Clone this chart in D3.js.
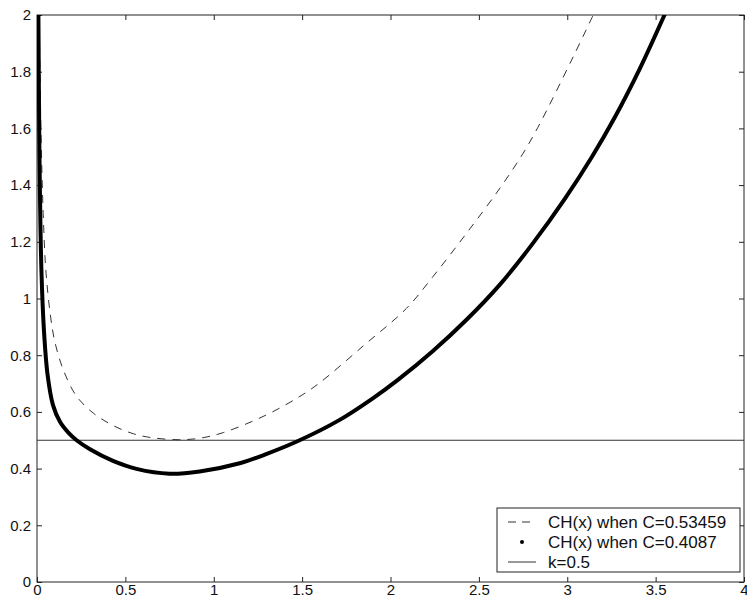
<!DOCTYPE html>
<html lang="en">
<head>
	<meta charset="utf-8"/>
	<title>CH(x) curves</title>
	<script src="https://d3js.org/d3.v7.min.js"></script>
	<style>
		body { margin: 0; background: #fff; }
		.axis text { font-family: "Liberation Sans", Arial, sans-serif; font-size: 15px; fill: #111; }
		.axis line { stroke: #222; }
		.axis .domain { display: none; }
		.legend text { font-family: "Liberation Sans", Arial, sans-serif; font-size: 17px; fill: #111; }
	</style>
</head>
<body>
<div id="chart"></div>

<script>
	// curve: CH(x) when C=0.53459 (dashed)
	var dashX = [0.012, 0.022, 0.035, 0.05, 0.074, 0.10, 0.149, 0.224, 0.32, 0.43, 0.545, 0.65, 0.80, 0.92, 1.054, 1.30, 1.488, 1.60, 1.85, 2.09, 2.24, 2.43, 2.62, 2.75, 2.846, 3.034, 3.147];
	var dashY = [2.0, 1.6, 1.3, 1.1, 0.95, 0.85, 0.748, 0.655, 0.595, 0.552, 0.523, 0.509, 0.502, 0.507, 0.527, 0.59, 0.655, 0.703, 0.835, 0.965, 1.077, 1.23, 1.39, 1.512, 1.618, 1.853, 2.0];

	// CH(x) when C=0.4087 (thick dotted)
	var dotX = [0.008, 0.014, 0.025, 0.04, 0.06, 0.09, 0.13, 0.18, 0.224, 0.30, 0.43, 0.563, 0.75, 0.92, 1.147, 1.30, 1.486, 1.71, 1.90, 2.04, 2.24, 2.43, 2.62, 2.80, 2.99, 3.14, 3.27, 3.41, 3.55];
	var dotY = [2.0, 1.5, 1.1, 0.88, 0.73, 0.625, 0.565, 0.525, 0.5, 0.468, 0.427, 0.399, 0.382, 0.39, 0.419, 0.452, 0.50, 0.571, 0.648, 0.712, 0.815, 0.925, 1.05, 1.19, 1.355, 1.50, 1.64, 1.81, 2.0];

	var kValue = 0.5;

	var xTicks = [0, 0.5, 1, 1.5, 2, 2.5, 3, 3.5, 4];
	var xTickLabels = ["0", "0.5", "1", "1.5", "2", "2.5", "3", "3.5", "4"];
	var yTicks = [0, 0.2, 0.4, 0.6, 0.8, 1, 1.2, 1.4, 1.6, 1.8, 2];
	var yTickLabels = ["0", "0.2", "0.4", "0.6", "0.8", "1", "1.2", "1.4", "1.6", "1.8", "2"];

	var legendLabels = ["CH(x) when C=0.53459", "CH(x) when C=0.4087", "k=0.5"];

	var width = 747,
		height = 599;

	var svg = d3.select("#chart").append("svg")
		.attr("width", width)
		.attr("height", height);

	var x = d3.scaleLinear().domain([0, 4]).range([37, 744]);
	var y = d3.scaleLinear().domain([0, 2]).range([582, 15]);

	svg.append("clipPath").attr("id", "plot")
		.append("rect")
		.attr("x", x(0)).attr("y", y(2))
		.attr("width", x(4) - x(0)).attr("height", y(0) - y(2));

	// axes, ticks pointing inwards on all four sides
	svg.append("g")
		.attr("class", "axis")
		.attr("transform", "translate(0," + y(0) + ")")
		.call(d3.axisBottom(x).tickValues(xTicks).tickSizeInner(-5).tickSizeOuter(0).tickPadding(2)
			.tickFormat(function(d, i) { return xTickLabels[i]; }));

	svg.append("g")
		.attr("class", "axis")
		.attr("transform", "translate(0," + y(2) + ")")
		.call(d3.axisTop(x).tickValues(xTicks).tickSizeInner(-5).tickSizeOuter(0).tickFormat(""));

	svg.append("g")
		.attr("class", "axis")
		.attr("transform", "translate(" + x(0) + ",0)")
		.call(d3.axisLeft(y).tickValues(yTicks).tickSizeInner(-5).tickSizeOuter(0).tickPadding(6)
			.tickFormat(function(d, i) { return yTickLabels[i]; }));

	svg.append("g")
		.attr("class", "axis")
		.attr("transform", "translate(" + x(4) + ",0)")
		.call(d3.axisRight(y).tickValues(yTicks).tickSizeInner(-5).tickSizeOuter(0).tickFormat(""));

	// the last x label sits on the window edge, pull it back in
	svg.selectAll(".axis text").filter(function() { return this.textContent === "4"; })
		.attr("text-anchor", "end").attr("dx", "4");

	svg.append("rect")
		.attr("x", x(0)).attr("y", y(2))
		.attr("width", x(4) - x(0)).attr("height", y(0) - y(2))
		.attr("fill", "none")
		.attr("stroke", "#222");

	var line = d3.line()
		.x(function(d) { return x(d[0]); })
		.y(function(d) { return y(d[1]); })
		.curve(d3.curveCatmullRom.alpha(0.5));

	var plot = svg.append("g").attr("clip-path", "url(#plot)");

	// k line
	plot.append("path")
		.datum([[0, kValue], [4, kValue]])
		.attr("d", line)
		.attr("fill", "none")
		.attr("stroke", "#333")
		.attr("stroke-width", 1);

	plot.append("path")
		.datum(dashX.map(function(v, i) { return [v, dashY[i]]; }))
		.attr("d", line)
		.attr("fill", "none")
		.attr("stroke", "#333")
		.attr("stroke-width", 1)
		.attr("stroke-dasharray", "8,7");

	plot.append("path")
		.datum(dotX.map(function(v, i) { return [v, dotY[i]]; }))
		.attr("d", line)
		.attr("fill", "none")
		.attr("stroke", "#000")
		.attr("stroke-width", 4)
		.attr("stroke-linecap", "round");

	// legend
	var legend = svg.append("g").attr("class", "legend");

	legend.append("rect")
		.attr("x", 497).attr("y", 508)
		.attr("width", 243).attr("height", 64)
		.attr("fill", "#fff")
		.attr("stroke", "#222");

	var rows = legend.selectAll("g.row")
		.data(legendLabels)
		.enter().append("g")
		.attr("class", "row")
		.attr("transform", function(d, i) { return "translate(0," + (522 + i * 20) + ")"; });

	rows.append("text")
		.attr("x", 548)
		.attr("dy", "0.36em")
		.text(function(d) { return d; });

	rows.filter(function(d, i) { return i === 0; }).append("line")
		.attr("x1", 508).attr("x2", 536)
		.attr("stroke", "#333")
		.attr("stroke-dasharray", "8,6");

	rows.filter(function(d, i) { return i === 1; }).append("circle")
		.attr("cx", 522).attr("r", 2)
		.attr("fill", "#000");

	rows.filter(function(d, i) { return i === 2; }).append("line")
		.attr("x1", 508).attr("x2", 536)
		.attr("stroke", "#333");
</script>
</body>
</html>
